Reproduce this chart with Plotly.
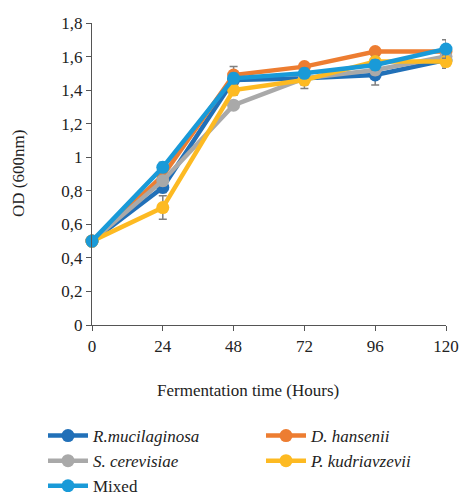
import plotly.graph_objects as go

hours = [0, 24, 48, 72, 96, 120]
r_muc = [0.50, 0.82, 1.46, 1.47, 1.49, 1.58]
d_han = [0.50, 0.89, 1.49, 1.54, 1.63, 1.63]
s_cer = [0.50, 0.86, 1.31, 1.47, 1.52, 1.60]
p_kud = [0.50, 0.70, 1.40, 1.46, 1.57, 1.57]
mixed = [0.50, 0.94, 1.47, 1.50, 1.55, 1.645]

r_err = [0, 0.03, 0.04, 0.06, 0.06, 0.04]
d_err = [0, 0.02, 0.05, 0.02, 0.02, 0.03]
s_err = [0, 0.03, 0.02, 0.03, 0.03, 0.03]
p_err = [0, 0.07, 0.03, 0.03, 0.03, 0.04]
m_err = [0, 0.03, 0.03, 0.03, 0.03, 0.055]

names = ["<i>R.mucilaginosa</i>", "<i>D. hansenii</i>", "<i>S. cerevisiae</i>",
         "<i>P. kudriavzevii</i>", "Mixed"]
colors = ["#2170B8", "#ED7D31", "#A9A9A9", "#FDBA22", "#199AD8"]
legends = ["legend", "legend2", "legend", "legend2", "legend"]
series = [r_muc, d_han, s_cer, p_kud, mixed]
errors = [r_err, d_err, s_err, p_err, m_err]

y_ticks = [0, 0.2, 0.4, 0.6, 0.8, 1.0, 1.2, 1.4, 1.6, 1.8]
y_ticktext = ["0", "0,2", "0,4", "0,6", "0,8", "1", "1,2", "1,4", "1,6", "1,8"]
x_ticks = [0, 24, 48, 72, 96, 120]

fig = go.Figure()
for name, col, ys, err, lg in zip(names, colors, series, errors, legends):
    fig.add_trace(go.Scatter(
        x=hours, y=ys, name=name, mode="lines+markers",
        line=dict(color=col, width=4.5),
        marker=dict(color=col, size=13),
        error_y=dict(type="data", array=err, color="#808080", thickness=1.5, width=4),
        cliponaxis=False, legend=lg,
    ))

ff = "Times New Roman"
fc = "#222"
tfont = dict(family=ff, size=17, color=fc)
W, H = 463, 492
L, R, T, B = 92, 17, 23, 167
pw, ph = W - L - R, H - T - B
fig.update_layout(
    width=W, height=H,
    margin=dict(l=L, r=R, t=T, b=B, autoexpand=False),
    plot_bgcolor="white", paper_bgcolor="white",
    font=tfont,
    showlegend=True,
    legend=dict(
        orientation="v", xref="container", yref="container",
        x=43 / W, y=1 - 418 / H, xanchor="left", yanchor="top",
        font=tfont, itemwidth=40, tracegroupgap=0, traceorder="normal",
        bgcolor="rgba(0,0,0,0)",
    ),
    legend2=dict(
        orientation="v", xref="container", yref="container",
        x=261 / W, y=1 - 418 / H, xanchor="left", yanchor="top",
        font=tfont, itemwidth=40, tracegroupgap=0, traceorder="normal",
        bgcolor="rgba(0,0,0,0)",
    ),
    xaxis=dict(
        range=[0, 120], tickvals=x_ticks, ticks="outside", ticklen=5,
        tickcolor="#555", showline=True, linecolor="#555", linewidth=1.3,
        showgrid=False, zeroline=False, tickfont=tfont,
    ),
    yaxis=dict(
        range=[0, 1.8], tickvals=y_ticks, ticktext=y_ticktext,
        ticks="outside", ticklen=5, tickcolor="#555",
        showline=True, linecolor="#555", linewidth=1.3,
        showgrid=False, zeroline=False, tickfont=tfont,
    ),
    annotations=[
        dict(text="Fermentation time (Hours)", xref="paper", yref="paper",
             x=(248 - L) / pw, y=(H - B - 390) / ph, xanchor="center", yanchor="middle",
             showarrow=False, font=tfont),
        dict(text="OD (600nm)", xref="paper", yref="paper",
             x=(18 - L) / pw, y=0.5, xanchor="center", yanchor="middle", textangle=-90,
             showarrow=False, font=tfont),
    ],
)

fig.write_html("out.html", config={"displayModeBar": False},
               post_script="document.body.style.margin='0';")
